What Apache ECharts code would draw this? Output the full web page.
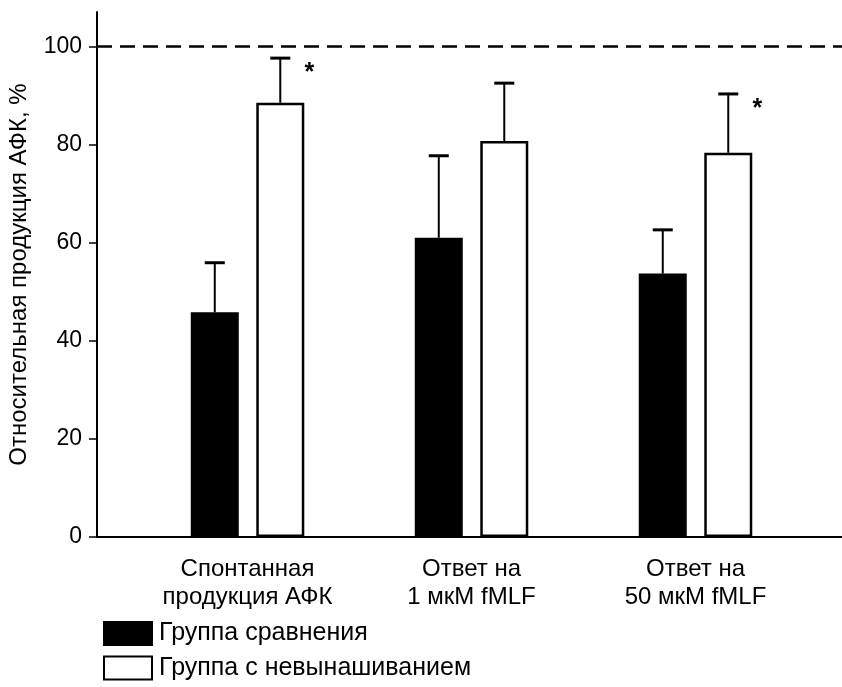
<!DOCTYPE html>
<html>
<head>
<meta charset="utf-8">
<script src="https://cdn.jsdelivr.net/npm/echarts@6/dist/echarts.min.js"></script>
<style>
html,body{margin:0;padding:0;background:#fff;}
#chart{width:842px;height:687px;}
</style>
</head>
<body>
<div id="chart"></div>
<script>
// ---- data ----
var categories = ['Спонтанная\nпродукция АФК', 'Ответ на\n1 мкМ fMLF', 'Ответ на\n50 мкМ fMLF'];
var categoryPositions = [1, 2, 3];
var seriesNames = ['Группа сравнения', 'Группа с невынашиванием'];
var controlMeans = [45.8, 61.0, 53.7];
var controlUpper = [55.9, 77.7, 62.6];
var miscarriageMeans = [88.5, 80.7, 78.3];
var miscarriageUpper = [97.6, 92.5, 90.3];
var miscarriageSignificant = [true, false, true];
var yTicks = [0, 20, 40, 60, 80, 100];
var referenceLevel = 100;
var yAxisName = 'Относительная продукция АФК, %';

// ---- styling / layout ----
var FONT = '"Liberation Sans", Arial, sans-serif';
var BAR_W = 48;
var BAR_GAP_PX = 17.5;
var HALF = (BAR_W + BAR_GAP_PX) / 2;

function barData(vals) {
  return categoryPositions.map(function (p, i) { return [p, vals[i]]; });
}
function errData(means, upper, flags) {
  return categoryPositions.map(function (p, i) { return [p, means[i], upper[i], flags && flags[i] ? 1 : 0]; });
}
function errRender(offset) {
  return function (params, api) {
    var x = api.value(0), m = api.value(1), u = api.value(2), f = api.value(3);
    var p0 = api.coord([x, m]);
    var p1 = api.coord([x, u]);
    var cx = p0[0] + offset;
    var children = [
      { type: 'line', shape: { x1: cx, y1: p0[1], x2: cx, y2: p1[1] }, style: { stroke: '#000', lineWidth: 2 } },
      { type: 'line', shape: { x1: cx - 10, y1: p1[1], x2: cx + 10, y2: p1[1] }, style: { stroke: '#000', lineWidth: 3 } }
    ];
    if (f) {
      children.push({ type: 'text', x: cx + 29, y: p1[1] + 15,
        style: { text: '*', fill: '#000', font: 'bold 25px ' + FONT, align: 'center', verticalAlign: 'middle' } });
    }
    return { type: 'group', children: children };
  };
}

var chart = echarts.init(document.getElementById('chart'), null, { renderer: 'canvas' });
chart.setOption({
  animation: false,
  backgroundColor: '#fff',
  grid: { left: 97, right: 0, top: 12, bottom: 150, containLabel: false, outerBoundsMode: 'none' },
  legend: {
    data: seriesNames,
    orient: 'vertical',
    left: 103, top: 621,
    padding: 0,
    itemWidth: 48, itemHeight: 23, itemGap: 9.5,
    icon: 'rect',
    selectedMode: false,
    textStyle: { color: '#000', fontSize: 25, fontFamily: FONT, lineHeight: 25, padding: [0, 0, 0, 2] }
  },
  xAxis: {
    type: 'value',
    min: 0.328, max: 3.654,
    axisLine: { show: true, lineStyle: { color: '#000', width: 2 } },
    axisTick: { show: false },
    splitLine: { show: false },
    axisLabel: {
      customValues: categoryPositions,
      formatter: function (v) { return categories[Math.round(v) - 1] || ''; },
      color: '#000', fontSize: 24, fontFamily: FONT, lineHeight: 28, margin: 18, align: 'center'
    }
  },
  yAxis: {
    type: 'value',
    min: 0, max: 107,
    name: yAxisName,
    nameLocation: 'middle',
    nameGap: 66,
    nameTextStyle: { color: '#000', fontSize: 24, fontFamily: FONT },
    axisLine: { show: true, lineStyle: { color: '#000', width: 2 } },
    axisTick: { show: true, inside: false, length: 8, customValues: yTicks, lineStyle: { color: '#000', width: 1.5 } },
    splitLine: { show: false },
    axisLabel: { customValues: yTicks, color: '#000', fontSize: 23, fontFamily: FONT, margin: 15 }
  },
  series: [
    {
      name: seriesNames[0], type: 'bar',
      data: barData(controlMeans),
      barWidth: BAR_W, barGap: (BAR_GAP_PX / BAR_W * 100).toFixed(1) + '%',
      itemStyle: { color: '#000', borderColor: '#000', borderWidth: 2.5 },
      markLine: {
        silent: true, symbol: ['none', 'none'], label: { show: false },
        lineStyle: { color: '#000', width: 2.5, type: [15, 8] },
        data: [{ yAxis: referenceLevel }]
      }
    },
    {
      name: seriesNames[1], type: 'bar',
      data: barData(miscarriageMeans),
      barWidth: BAR_W,
      itemStyle: { color: '#fff', borderColor: '#000', borderWidth: 2.5 }
    },
    {
      type: 'custom', name: 'err1', renderItem: errRender(-HALF),
      data: errData(controlMeans, controlUpper), z: 3, silent: true
    },
    {
      type: 'custom', name: 'err2', renderItem: errRender(HALF),
      data: errData(miscarriageMeans, miscarriageUpper, miscarriageSignificant), z: 3, silent: true
    }
  ]
});
</script>
</body>
</html>
